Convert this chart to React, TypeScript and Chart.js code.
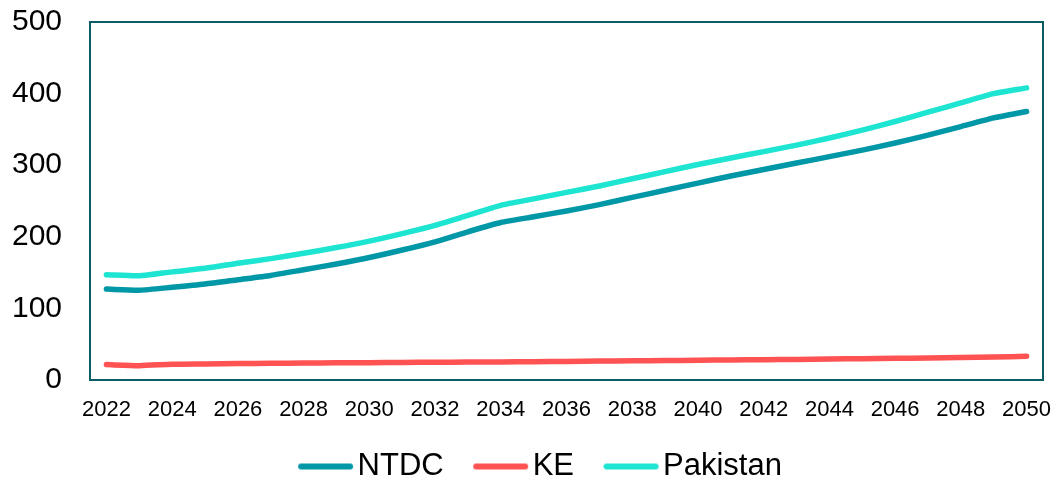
import React, { useEffect, useRef } from "react";
import { Chart, registerables } from "chart.js";

Chart.register(...registerables);

const years = [
  "2022", "2023", "2024", "2025", "2026", "2027", "2028", "2029", "2030", "2031",
  "2032", "2033", "2034", "2035", "2036", "2037", "2038", "2039", "2040", "2041",
  "2042", "2043", "2044", "2045", "2046", "2047", "2048", "2049", "2050",
];

const ntdc = [
  127, 125.5, 129.5, 134, 140, 146, 154, 162, 171, 181.5,
  193, 207, 220, 228, 236, 245, 255, 265, 275, 285,
  294, 303, 312, 321, 331, 342, 354, 366, 375,
];

const ke = [
  21.5, 20, 22, 22.5, 23, 23.3, 23.6, 24, 24.2, 24.5,
  24.8, 25, 25.3, 25.6, 26, 26.4, 26.8, 27.2, 27.6, 28,
  28.4, 28.8, 29.3, 29.8, 30.3, 30.8, 31.4, 32, 33,
];

const pakistan = [
  147, 145.5, 151, 156, 163, 169.5, 177, 185, 194, 204.5,
  216, 230, 244, 253, 262, 271, 281, 291, 301, 310,
  319, 328, 338, 349, 361, 374, 387, 400, 408,
];

const seriesNames = ["NTDC", "KE", "Pakistan"];
const seriesColors = ["#0097A7", "#FF5252", "#1DE5D1"];

const FONT = "'Liberation Sans', Arial, sans-serif";

function makeSwatch(color: string): HTMLCanvasElement {
  const c = document.createElement("canvas");
  c.width = 72;
  c.height = 12;
  const g = c.getContext("2d")!;
  g.strokeStyle = color;
  g.lineWidth = 6;
  g.lineCap = "round";
  g.beginPath();
  g.moveTo(17, 6);
  g.lineTo(66, 6);
  g.stroke();
  return c;
}

const plotBorder = {
  id: "plotBorder",
  beforeDatasetsDraw(chart: any) {
    const { ctx, chartArea: a } = chart;
    ctx.save();
    ctx.strokeStyle = "#0B5C63";
    ctx.lineWidth = 2;
    ctx.strokeRect(a.left, a.top, a.right - a.left, a.bottom - a.top);
    ctx.restore();
  },
};

// centre the legend row where the reference has it
const legendShift = {
  id: "legendShift",
  afterLayout(chart: any) {
    const lg = chart.legend;
    if (lg) {
      lg.left += 18.5;
      lg.right += 18.5;
    }
  },
};

export default function App() {
  const ref = useRef<HTMLCanvasElement>(null);

  useEffect(() => {
    document.body.style.margin = "0";
    const swatches = seriesColors.map(makeSwatch);
    const seriesData = [ntdc, ke, pakistan];
    const chart = new Chart(ref.current!, {
      type: "line",
      data: {
        labels: years,
        datasets: seriesNames.map((name, i) => ({
          label: name,
          data: seriesData[i],
          borderColor: seriesColors[i],
          backgroundColor: seriesColors[i],
          borderWidth: 5.5,
          pointRadius: 0,
          pointHoverRadius: 0,
          tension: 0.2,
          borderCapStyle: "round",
          borderJoinStyle: "round",
          fill: false,
        })),
      },
      options: {
        animation: false,
        responsive: false,
        layout: { padding: { left: 0, right: 14, top: 22, bottom: 0 } },
        scales: {
          x: {
            type: "category",
            offset: true,
            grid: { display: false, drawTicks: false },
            border: { display: false },
            ticks: {
              autoSkip: false,
              maxRotation: 0,
              minRotation: 0,
              padding: 16.5,
              color: "#000",
              font: { family: FONT, size: 22 },
              callback: (_v: any, i: number) => (i % 2 === 0 ? years[i] : ""),
            },
            afterFit: (s: any) => {
              s.height = 41.5;
              s.paddingLeft = 0;
              s.paddingRight = 0;
            },
          },
          y: {
            min: 0,
            max: 500,
            grid: { display: false, drawTicks: false },
            border: { display: false },
            ticks: {
              stepSize: 100,
              padding: 28,
              color: "#000",
              font: { family: FONT, size: 30 },
            },
            afterFit: (s: any) => {
              s.width = 90;
              s.paddingTop = 0;
              s.paddingBottom = 0;
            },
          },
        },
        plugins: {
          tooltip: { enabled: false },
          legend: {
            position: "bottom",
            labels: {
              usePointStyle: true,
              pointStyleWidth: 44,
              padding: 29.5,
              color: "#000",
              font: { family: FONT, size: 31 },
              generateLabels: (c: any) =>
                Chart.defaults.plugins.legend.labels
                  .generateLabels(c)
                  .map((l: any, i: number) => ({ ...l, pointStyle: swatches[i] })),
            },
          },
        },
      },
      plugins: [plotBorder, legendShift],
    });
    return () => chart.destroy();
  }, []);

  return (
    <div
      style={{
        position: "fixed",
        left: 0,
        top: 0,
        width: 1057,
        height: 482,
        overflow: "hidden",
        background: "#fff",
      }}
    >
      <canvas ref={ref} width={1057} height={492} style={{ display: "block" }} />
    </div>
  );
}
